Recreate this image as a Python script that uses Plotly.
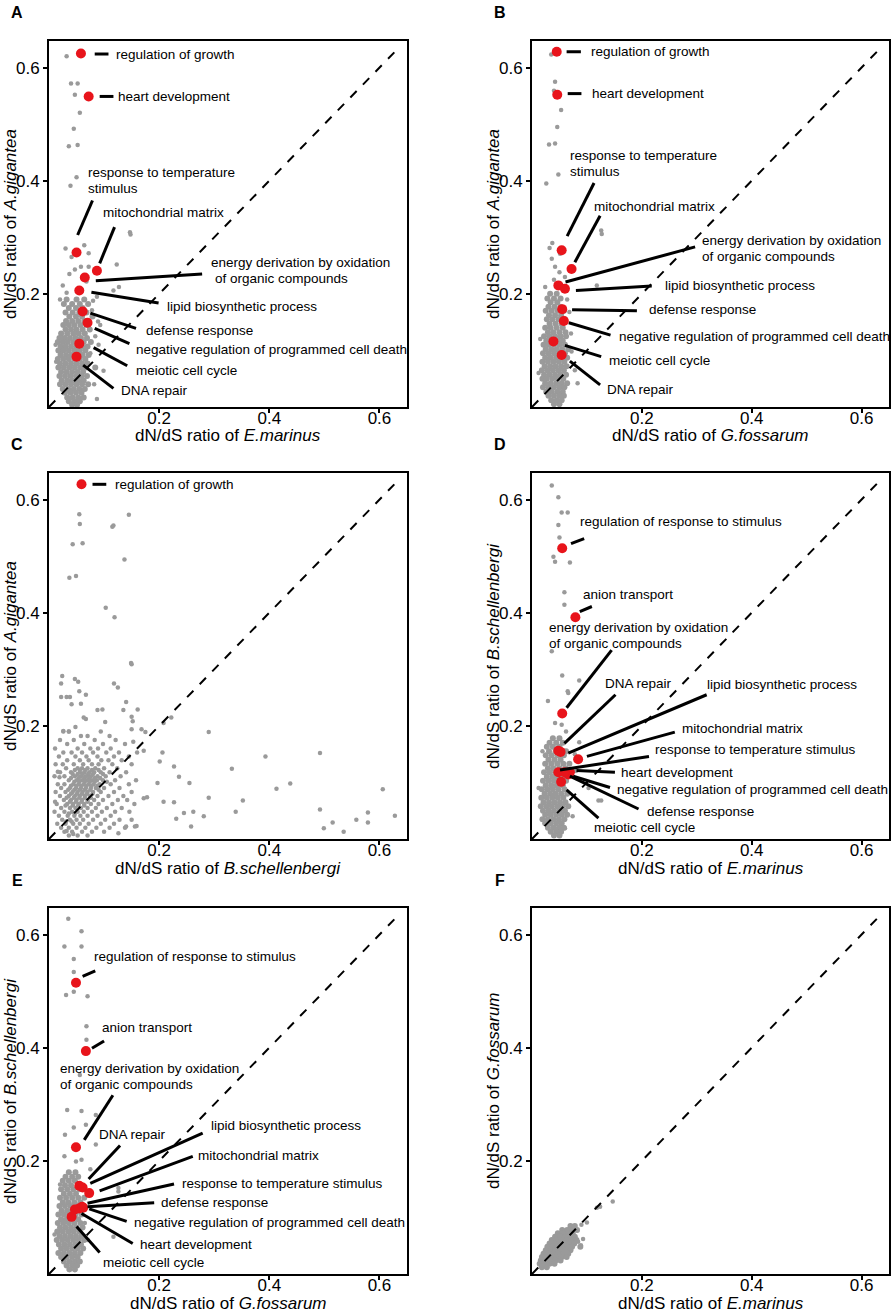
"""dN/dS scatter comparison panels (A-F) rebuilt with Plotly."""

import plotly.graph_objects as go

FONT = "Arial, Liberation Sans, sans-serif"
GRAY = "#9a9a9a"
RED = "#e8141b"

# ---------------------------------------------------------------- data
# A: A.gigantea (y) vs E.marinus (x)
A_OUTLIERS = [
    (0.032, 0.620), (0.040, 0.572), (0.052, 0.572), (0.047, 0.552), (0.056, 0.520),
    (0.045, 0.492), (0.036, 0.461), (0.052, 0.463), (0.050, 0.406), (0.039, 0.391),
    (0.147, 0.309), (0.148, 0.305), (0.030, 0.280), (0.064, 0.286), (0.072, 0.272),
    (0.041, 0.265), (0.072, 0.248), (0.058, 0.248), (0.123, 0.252), (0.037, 0.235),
    (0.047, 0.243), (0.117, 0.206), (0.127, 0.212), (0.087, 0.195), (0.089, 0.151),
    (0.093, 0.145), (0.099, 0.064), (0.087, 0.014), (0.075, 0.095), (0.078, 0.171),
    (0.032, 0.202), (0.025, 0.215), (0.068, 0.222), (0.080, 0.188), (0.020, 0.190),
    (0.084, 0.125), (0.082, 0.040), (0.090, 0.110), (0.013, 0.080), (0.012, 0.110),
]
A_CORE_Y = [0.190, 0.182, 0.175, 0.167, 0.160, 0.152, 0.145, 0.137, 0.130, 0.122,
            0.115, 0.107, 0.100, 0.092, 0.085, 0.077, 0.070, 0.062, 0.055, 0.047,
            0.040, 0.032, 0.025, 0.017, 0.010, 0.004]
A_CORE_X = [
    [0.032, 0.050, 0.064], [0.027, 0.042, 0.056, 0.071], [0.036, 0.049, 0.061],
    [0.030, 0.043, 0.055, 0.068], [0.037, 0.049, 0.060, 0.079], [0.031, 0.042, 0.053, 0.064],
    [0.026, 0.036, 0.046, 0.057, 0.068], [0.030, 0.040, 0.050, 0.061, 0.074],
    [0.022, 0.033, 0.044, 0.054, 0.065], [0.019, 0.028, 0.038, 0.048, 0.058, 0.069],
    [0.016, 0.025, 0.034, 0.044, 0.053, 0.063, 0.076], [0.021, 0.030, 0.040, 0.050, 0.060, 0.070],
    [0.017, 0.026, 0.036, 0.046, 0.056, 0.066], [0.021, 0.031, 0.041, 0.051, 0.061, 0.072],
    [0.016, 0.026, 0.036, 0.046, 0.056, 0.066], [0.020, 0.030, 0.040, 0.050, 0.060, 0.070],
    [0.017, 0.027, 0.037, 0.047, 0.057, 0.067, 0.084], [0.022, 0.032, 0.042, 0.052, 0.062],
    [0.019, 0.029, 0.039, 0.049, 0.059, 0.069], [0.023, 0.033, 0.043, 0.053, 0.063],
    [0.020, 0.030, 0.040, 0.050, 0.060, 0.071], [0.025, 0.035, 0.045, 0.055, 0.065],
    [0.029, 0.039, 0.049, 0.059], [0.033, 0.043, 0.053, 0.063], [0.036, 0.046, 0.056],
    [0.042, 0.051],
]
A_TERM_X = [0.058, 0.072, 0.050, 0.087, 0.065, 0.055, 0.061, 0.070, 0.055, 0.050]
A_TERM_Y = [0.625, 0.549, 0.273, 0.241, 0.229, 0.206, 0.169, 0.149, 0.112, 0.089]

# B: A.gigantea (y) vs G.fossarum (x)
B_OUTLIERS = [
    (0.035, 0.623), (0.042, 0.575), (0.040, 0.559), (0.053, 0.525), (0.046, 0.495),
    (0.031, 0.464), (0.042, 0.466), (0.048, 0.411), (0.026, 0.395), (0.126, 0.312),
    (0.127, 0.306), (0.037, 0.290), (0.032, 0.281), (0.051, 0.271), (0.042, 0.248),
    (0.060, 0.230), (0.024, 0.212), (0.118, 0.215), (0.083, 0.042), (0.078, 0.065),
    (0.071, 0.130), (0.050, 0.238), (0.036, 0.262), (0.064, 0.190), (0.015, 0.120),
    (0.012, 0.060), (0.072, 0.098), (0.068, 0.168), (0.040, 0.225),
]
B_CORE_Y = [0.200, 0.192, 0.185, 0.177, 0.170, 0.162, 0.155, 0.147, 0.140, 0.132,
            0.125, 0.117, 0.110, 0.102, 0.095, 0.087, 0.080, 0.072, 0.065, 0.057,
            0.050, 0.042, 0.035, 0.027, 0.020, 0.012, 0.005]
B_CORE_X = [
    [0.033, 0.045], [0.028, 0.040, 0.052], [0.034, 0.046], [0.030, 0.041, 0.052],
    [0.025, 0.036, 0.047, 0.058], [0.031, 0.042, 0.053], [0.027, 0.037, 0.048, 0.060],
    [0.032, 0.043, 0.054], [0.024, 0.034, 0.045, 0.056], [0.029, 0.039, 0.050, 0.061],
    [0.022, 0.032, 0.042, 0.052, 0.062], [0.026, 0.036, 0.046, 0.056],
    [0.021, 0.030, 0.040, 0.050, 0.060], [0.025, 0.035, 0.045, 0.055, 0.066],
    [0.020, 0.030, 0.040, 0.050, 0.060], [0.024, 0.034, 0.044, 0.054, 0.064],
    [0.019, 0.029, 0.039, 0.049, 0.059], [0.023, 0.033, 0.043, 0.053, 0.063],
    [0.018, 0.028, 0.038, 0.048, 0.058], [0.022, 0.032, 0.042, 0.052, 0.062],
    [0.019, 0.027, 0.037, 0.047, 0.057], [0.024, 0.034, 0.044, 0.054, 0.064],
    [0.020, 0.030, 0.040, 0.050, 0.059], [0.026, 0.036, 0.046, 0.056],
    [0.030, 0.040, 0.050, 0.058], [0.035, 0.045, 0.054], [0.040, 0.050],
]
B_TERM_X = [0.045, 0.046, 0.054, 0.072, 0.048, 0.060, 0.055, 0.058, 0.039, 0.054]
B_TERM_Y = [0.628, 0.552, 0.277, 0.244, 0.215, 0.209, 0.173, 0.152, 0.116, 0.092]

# C: A.gigantea (y) vs B.schellenbergi (x)
C_OUTLIERS = [
    (0.055, 0.574), (0.056, 0.557), (0.043, 0.521), (0.061, 0.523), (0.037, 0.462),
    (0.049, 0.465), (0.115, 0.552), (0.117, 0.554), (0.145, 0.573), (0.137, 0.494),
    (0.103, 0.409), (0.119, 0.392), (0.149, 0.311), (0.150, 0.309), (0.024, 0.288),
    (0.022, 0.275), (0.022, 0.251), (0.032, 0.251), (0.038, 0.251), (0.047, 0.283),
    (0.053, 0.278), (0.055, 0.261), (0.067, 0.255), (0.041, 0.238), (0.058, 0.239),
    (0.118, 0.275), (0.125, 0.268), (0.140, 0.242), (0.135, 0.228), (0.088, 0.228),
    (0.097, 0.229), (0.102, 0.207), (0.161, 0.229), (0.150, 0.216), (0.152, 0.208),
    (0.063, 0.215), (0.067, 0.212), (0.048, 0.198), (0.026, 0.191), (0.036, 0.190),
    (0.150, 0.194), (0.168, 0.194), (0.175, 0.189), (0.208, 0.205), (0.222, 0.215),
    (0.290, 0.189), (0.206, 0.153), (0.201, 0.137), (0.172, 0.156), (0.153, 0.172),
    (0.227, 0.128), (0.236, 0.110), (0.255, 0.099), (0.332, 0.124), (0.393, 0.146),
    (0.492, 0.152), (0.413, 0.089), (0.438, 0.098), (0.606, 0.088), (0.197, 0.099),
    (0.290, 0.073), (0.352, 0.068), (0.208, 0.066), (0.227, 0.065), (0.245, 0.046),
    (0.262, 0.048), (0.281, 0.040), (0.339, 0.048), (0.492, 0.052), (0.579, 0.047),
    (0.628, 0.041), (0.558, 0.034), (0.515, 0.029), (0.499, 0.019), (0.535, 0.013),
    (0.579, 0.029), (0.258, 0.022), (0.231, 0.036), (0.178, 0.074), (0.172, 0.072),
    (0.156, 0.022), (0.159, 0.023), (0.140, 0.022), (0.126, 0.010), (0.011, 0.066),
    (0.016, 0.119), (0.019, 0.109), (0.032, 0.014), (0.044, 0.009),
]
C_CORE_Y = [0.190, 0.182, 0.175, 0.168, 0.160, 0.153, 0.146, 0.139, 0.132, 0.125,
            0.122, 0.118, 0.115, 0.111, 0.108, 0.104, 0.101, 0.097, 0.094, 0.090,
            0.087, 0.083, 0.080, 0.076, 0.073, 0.069, 0.066, 0.062, 0.059, 0.055,
            0.048, 0.045, 0.041, 0.034, 0.031, 0.027, 0.020, 0.013, 0.006]
C_CORE_X = [
    [0.026, 0.036, 0.094], [0.058, 0.070, 0.110], [0.020, 0.045, 0.083, 0.121],
    [0.033, 0.064, 0.098, 0.138], [0.011, 0.052, 0.075, 0.089, 0.112],
    [0.026, 0.041, 0.060, 0.080, 0.104, 0.127, 0.160],
    [0.018, 0.048, 0.068, 0.088, 0.118, 0.145],
    [0.033, 0.056, 0.072, 0.095, 0.108, 0.132],
    [0.012, 0.025, 0.045, 0.062, 0.078, 0.090, 0.115, 0.150],
    [0.031, 0.052, 0.060, 0.070, 0.084, 0.100, 0.124],
    [0.047, 0.056, 0.066, 0.078, 0.090],
    [0.020, 0.040, 0.056, 0.064, 0.073, 0.082, 0.094, 0.110, 0.140],
    [0.043, 0.052, 0.061, 0.071, 0.080, 0.098],
    [0.010, 0.028, 0.047, 0.058, 0.067, 0.076, 0.088, 0.103, 0.130],
    [0.040, 0.054, 0.064, 0.073, 0.083, 0.093],
    [0.036, 0.050, 0.060, 0.069, 0.078, 0.087, 0.098, 0.120, 0.158],
    [0.046, 0.055, 0.065, 0.074, 0.083, 0.105],
    [0.016, 0.028, 0.044, 0.054, 0.063, 0.072, 0.081, 0.092, 0.112, 0.145],
    [0.040, 0.050, 0.059, 0.068, 0.077, 0.088],
    [0.022, 0.038, 0.049, 0.058, 0.067, 0.076, 0.085, 0.100, 0.128],
    [0.035, 0.046, 0.056, 0.065, 0.075, 0.090],
    [0.012, 0.030, 0.043, 0.052, 0.061, 0.070, 0.080, 0.094, 0.118, 0.150],
    [0.040, 0.051, 0.060, 0.069, 0.079],
    [0.020, 0.036, 0.047, 0.056, 0.065, 0.074, 0.088, 0.108, 0.135],
    [0.032, 0.045, 0.055, 0.065, 0.076],
    [0.027, 0.040, 0.050, 0.060, 0.070, 0.082, 0.098, 0.125, 0.142],
    [0.038, 0.049, 0.059, 0.070],
    [0.014, 0.033, 0.044, 0.054, 0.064, 0.076, 0.090, 0.115, 0.155],
    [0.030, 0.043, 0.053, 0.064],
    [0.022, 0.038, 0.048, 0.058, 0.070, 0.085, 0.105, 0.132],
    [0.010, 0.028, 0.042, 0.052, 0.063, 0.078, 0.096, 0.120, 0.146],
    [0.036, 0.047],
    [0.018, 0.034, 0.046, 0.057, 0.070, 0.088, 0.112],
    [0.024, 0.038, 0.050, 0.062, 0.080, 0.102, 0.128, 0.150],
    [0.031, 0.041],
    [0.015, 0.030, 0.044, 0.056, 0.072, 0.094, 0.118],
    [0.022, 0.036, 0.050, 0.066, 0.086, 0.110, 0.138],
    [0.028, 0.042, 0.060, 0.078, 0.100], [0.036, 0.052, 0.070],
]
C_TERM_X = [0.059]
C_TERM_Y = [0.627]

# D: B.schellenbergi (y) vs E.marinus (x)
D_OUTLIERS = [
    (0.036, 0.625), (0.048, 0.604), (0.054, 0.577), (0.065, 0.577), (0.048, 0.555),
    (0.050, 0.533), (0.039, 0.499), (0.042, 0.490), (0.069, 0.489), (0.059, 0.436),
    (0.059, 0.414), (0.036, 0.332), (0.055, 0.289), (0.086, 0.280), (0.065, 0.261),
    (0.029, 0.244), (0.042, 0.205), (0.054, 0.202), (0.086, 0.171), (0.019, 0.155),
    (0.121, 0.068), (0.126, 0.068), (0.103, 0.090), (0.060, 0.019), (0.066, 0.258),
    (0.062, 0.190), (0.078, 0.150), (0.074, 0.040), (0.012, 0.090), (0.080, 0.120),
]
D_CORE_Y = [0.178, 0.170, 0.163, 0.155, 0.148, 0.140, 0.133, 0.125, 0.118, 0.110,
            0.103, 0.095, 0.088, 0.080, 0.073, 0.065, 0.058, 0.050, 0.043, 0.035,
            0.028, 0.020, 0.013, 0.006]
D_CORE_X = [
    [0.038, 0.050], [0.032, 0.044, 0.056], [0.027, 0.038, 0.050], [0.031, 0.043, 0.062],
    [0.025, 0.036, 0.047, 0.058], [0.030, 0.041, 0.052], [0.024, 0.035, 0.046, 0.057, 0.068],
    [0.029, 0.039, 0.050, 0.061], [0.022, 0.032, 0.042, 0.053], [0.027, 0.037, 0.047, 0.058],
    [0.020, 0.030, 0.040, 0.051, 0.062], [0.025, 0.035, 0.045, 0.056],
    [0.018, 0.028, 0.038, 0.048, 0.059], [0.023, 0.033, 0.043, 0.053, 0.064],
    [0.017, 0.027, 0.037, 0.047, 0.057], [0.021, 0.031, 0.041, 0.051, 0.061],
    [0.016, 0.026, 0.036, 0.046, 0.056, 0.066], [0.020, 0.030, 0.040, 0.050, 0.060],
    [0.024, 0.034, 0.044, 0.054, 0.064], [0.019, 0.029, 0.039, 0.049, 0.059],
    [0.024, 0.034, 0.044, 0.054], [0.029, 0.039, 0.049, 0.058], [0.034, 0.044, 0.053],
    [0.040, 0.050],
]
D_TERM_X = [0.055, 0.079, 0.055, 0.048, 0.052, 0.084, 0.048, 0.069, 0.066, 0.059, 0.053]
D_TERM_Y = [0.514, 0.392, 0.222, 0.156, 0.154, 0.141, 0.118, 0.118, 0.114, 0.118, 0.101]

# E: B.schellenbergi (y) vs G.fossarum (x)
E_OUTLIERS = [
    (0.035, 0.628), (0.059, 0.606), (0.028, 0.579), (0.059, 0.579), (0.045, 0.557),
    (0.045, 0.534), (0.031, 0.493), (0.045, 0.499), (0.070, 0.491), (0.068, 0.438),
    (0.068, 0.414), (0.056, 0.352), (0.033, 0.290), (0.059, 0.288), (0.085, 0.281),
    (0.045, 0.259), (0.067, 0.264), (0.029, 0.246), (0.085, 0.229), (0.028, 0.208),
    (0.049, 0.199), (0.059, 0.202), (0.126, 0.152), (0.126, 0.146), (0.117, 0.066),
    (0.020, 0.158), (0.075, 0.185), (0.070, 0.060), (0.010, 0.070), (0.065, 0.090),
]
E_CORE_Y = [0.180, 0.172, 0.165, 0.157, 0.150, 0.142, 0.135, 0.127, 0.120, 0.112,
            0.105, 0.097, 0.090, 0.082, 0.075, 0.067, 0.060, 0.052, 0.045, 0.037,
            0.030, 0.022, 0.015, 0.008]
E_CORE_X = [
    [0.036, 0.048], [0.030, 0.042, 0.053], [0.025, 0.036, 0.047], [0.029, 0.040, 0.058],
    [0.022, 0.033, 0.044, 0.055], [0.027, 0.038, 0.049], [0.020, 0.031, 0.042, 0.053, 0.064],
    [0.025, 0.035, 0.046, 0.057], [0.019, 0.029, 0.039, 0.050], [0.023, 0.033, 0.043, 0.054],
    [0.017, 0.027, 0.037, 0.048, 0.059], [0.022, 0.032, 0.042, 0.053],
    [0.016, 0.026, 0.036, 0.046, 0.057], [0.020, 0.030, 0.040, 0.050, 0.061],
    [0.015, 0.025, 0.035, 0.045, 0.055], [0.019, 0.029, 0.039, 0.049, 0.059],
    [0.014, 0.024, 0.034, 0.044, 0.054, 0.064], [0.018, 0.028, 0.038, 0.048, 0.058],
    [0.022, 0.032, 0.042, 0.052, 0.062], [0.017, 0.027, 0.037, 0.047, 0.057],
    [0.022, 0.032, 0.042, 0.052], [0.027, 0.037, 0.047, 0.056], [0.032, 0.042, 0.051],
    [0.037, 0.047],
]
E_TERM_X = [0.049, 0.067, 0.049, 0.055, 0.061, 0.073, 0.060, 0.055, 0.062, 0.047, 0.041]
E_TERM_Y = [0.515, 0.394, 0.224, 0.156, 0.153, 0.143, 0.119, 0.116, 0.117, 0.114, 0.101]

# F: G.fossarum (y) vs E.marinus (x)
F_OUTLIERS = [
    (0.147, 0.128), (0.124, 0.119), (0.118, 0.117), (0.100, 0.091), (0.090, 0.087),
    (0.069, 0.081), (0.089, 0.051), (0.084, 0.057), (0.018, 0.022), (0.093, 0.062),
]
F_CORE_Y = [0.085, 0.078, 0.072, 0.066, 0.060, 0.054, 0.048, 0.042, 0.036, 0.030,
            0.024, 0.018, 0.012]
F_CORE_X = [
    [0.070, 0.078], [0.055, 0.064, 0.073, 0.082], [0.047, 0.056, 0.065, 0.074],
    [0.042, 0.051, 0.060, 0.069, 0.078], [0.036, 0.045, 0.054, 0.063, 0.072, 0.081],
    [0.032, 0.041, 0.050, 0.059, 0.068, 0.077],
    [0.028, 0.037, 0.046, 0.055, 0.064, 0.073, 0.088],
    [0.025, 0.034, 0.043, 0.052, 0.061, 0.070], [0.021, 0.030, 0.039, 0.048, 0.057, 0.066],
    [0.018, 0.027, 0.036, 0.045, 0.054, 0.063], [0.016, 0.025, 0.034, 0.043, 0.052],
    [0.014, 0.023, 0.032, 0.041], [0.018, 0.027],
]
F_TERM_X = []
F_TERM_Y = []

TICKS = [0.2, 0.4, 0.6]
TICK_TEXT = ["0.2", "0.4", "0.6"]

# ------------------------------------------------- label placement
# (text, leader line x0, y0, x1, y1 or None, text x, text y)
LABELS = {
    "A": [
        ("regulation of growth", (0.083, 0.624, 0.108, 0.624), 0.118, 0.624),
        ("heart development", (0.092, 0.549, 0.117, 0.549), 0.121, 0.549),
        ("response to temperature", (0.052, 0.304, 0.079, 0.365), 0.068, 0.415),
        ("stimulus", None, 0.068, 0.387),
        ("mitochondrial matrix", (0.092, 0.254, 0.119, 0.318), 0.094, 0.343),
        ("energy derivation by oxidation", (0.085, 0.223, 0.278, 0.235), 0.291, 0.256),
        ("of organic compounds", None, 0.297, 0.228),
        ("lipid biosynthetic process", (0.077, 0.203, 0.199, 0.184), 0.211, 0.178),
        ("defense response", (0.075, 0.166, 0.158, 0.139), 0.173, 0.136),
        ("negative regulation of programmed cell death", (0.083, 0.139, 0.146, 0.112), 0.155, 0.102),
        ("meiotic cell cycle", (0.081, 0.105, 0.142, 0.073), 0.154, 0.065),
        ("DNA repair", (0.062, 0.074, 0.117, 0.033), 0.127, 0.030),
    ],
    "B": [
        ("regulation of growth", (0.063, 0.628, 0.089, 0.628), 0.103, 0.628),
        ("heart development", (0.065, 0.554, 0.090, 0.554), 0.105, 0.554),
        ("response to temperature", (0.064, 0.302, 0.113, 0.396), 0.065, 0.445),
        ("stimulus", None, 0.065, 0.416),
        ("mitochondrial matrix", (0.078, 0.256, 0.124, 0.338), 0.109, 0.354),
        ("energy derivation by oxidation", (0.061, 0.221, 0.297, 0.283), 0.306, 0.295),
        ("of organic compounds", None, 0.306, 0.266),
        ("lipid biosynthetic process", (0.080, 0.206, 0.218, 0.214), 0.239, 0.215),
        ("defense response", (0.073, 0.172, 0.191, 0.170), 0.209, 0.173),
        ("negative regulation of programmed cell death", (0.067, 0.149, 0.143, 0.127), 0.154, 0.124),
        ("meiotic cell cycle", (0.060, 0.109, 0.126, 0.089), 0.136, 0.082),
        ("DNA repair", (0.069, 0.081, 0.124, 0.039), 0.133, 0.031),
    ],
    "C": [
        ("regulation of growth", (0.079, 0.627, 0.104, 0.627), 0.116, 0.627),
    ],
    "D": [
        ("regulation of response to stimulus", (0.071, 0.522, 0.095, 0.531), 0.083, 0.562),
        ("anion transport", (0.087, 0.402, 0.109, 0.411), 0.090, 0.433),
        ("energy derivation by oxidation", (0.063, 0.232, 0.145, 0.334), 0.027, 0.374),
        ("of organic compounds", None, 0.027, 0.346),
        ("DNA repair", (0.059, 0.169, 0.152, 0.255), 0.130, 0.275),
        ("lipid biosynthetic process", (0.066, 0.152, 0.318, 0.255), 0.315, 0.274),
        ("mitochondrial matrix", (0.100, 0.146, 0.260, 0.189), 0.270, 0.196),
        ("response to temperature stimulus", (0.051, 0.122, 0.213, 0.146), 0.220, 0.158),
        ("heart development", (0.081, 0.121, 0.151, 0.118), 0.159, 0.118),
        ("negative regulation of programmed cell death", (0.075, 0.111, 0.142, 0.091), 0.152, 0.087),
        ("defense response", (0.069, 0.111, 0.194, 0.053), 0.206, 0.048),
        ("meiotic cell cycle", (0.063, 0.087, 0.121, 0.037), 0.110, 0.021),
    ],
    "E": [
        ("regulation of response to stimulus", (0.061, 0.526, 0.084, 0.536), 0.078, 0.561),
        ("anion transport", (0.078, 0.399, 0.100, 0.412), 0.092, 0.436),
        ("energy derivation by oxidation", (0.064, 0.237, 0.116, 0.316), 0.016, 0.363),
        ("of organic compounds", None, 0.016, 0.335),
        ("DNA repair", (0.072, 0.168, 0.129, 0.227), 0.088, 0.247),
        ("lipid biosynthetic process", (0.075, 0.160, 0.279, 0.249), 0.290, 0.263),
        ("mitochondrial matrix", (0.092, 0.147, 0.261, 0.208), 0.267, 0.209),
        ("response to temperature stimulus", (0.070, 0.125, 0.227, 0.159), 0.238, 0.160),
        ("defense response", (0.070, 0.119, 0.191, 0.126), 0.200, 0.126),
        ("negative regulation of programmed cell death", (0.073, 0.115, 0.141, 0.093), 0.151, 0.091),
        ("heart development", (0.059, 0.107, 0.152, 0.054), 0.162, 0.053),
        ("meiotic cell cycle", (0.050, 0.084, 0.092, 0.038), 0.094, 0.020),
    ],
    "F": [],
}

# panel letter, x title species, y title species, outliers, core rows, terms, core dot size
PANELS = [
    ("A", "E.marinus", "A.gigantea", A_OUTLIERS, A_CORE_Y, A_CORE_X, A_TERM_X, A_TERM_Y, 6),
    ("B", "G.fossarum", "A.gigantea", B_OUTLIERS, B_CORE_Y, B_CORE_X, B_TERM_X, B_TERM_Y, 6),
    ("C", "B.schellenbergi", "A.gigantea", C_OUTLIERS, C_CORE_Y, C_CORE_X, C_TERM_X, C_TERM_Y, 4.5),
    ("D", "E.marinus", "B.schellenbergi", D_OUTLIERS, D_CORE_Y, D_CORE_X, D_TERM_X, D_TERM_Y, 6),
    ("E", "G.fossarum", "B.schellenbergi", E_OUTLIERS, E_CORE_Y, E_CORE_X, E_TERM_X, E_TERM_Y, 6),
    ("F", "E.marinus", "G.fossarum", F_OUTLIERS, F_CORE_Y, F_CORE_X, F_TERM_X, F_TERM_Y, 6),
]

# ------------------------------------------------- page geometry (px)
W, H = 892, 1312
COL_X = [(49, 407), (532, 889)]
ROW_Y = [(41, 407), (473, 839), (908, 1274)]
DIAG_END = 0.635


def px_x(px):
    return px / W


def px_y(py):
    return 1 - py / H


fig = go.Figure()
annotations = []
shapes = []

for idx, (letter, xsp, ysp, outliers, core_y, core_x, term_x, term_y, core_size) in enumerate(PANELS):
    row, col = divmod(idx, 2)
    n = "" if idx == 0 else str(idx + 1)
    xref, yref = "x" + n, "y" + n
    (x0, x1), (y0, y1) = COL_X[col], ROW_Y[row]

    axis_style = dict(
        showgrid=False, zeroline=False, showline=True, mirror=True,
        linecolor="black", linewidth=2, ticks="outside", ticklen=4,
        tickwidth=2, tickcolor="black", tickvals=TICKS, ticktext=TICK_TEXT,
        tickfont=dict(family=FONT, size=17, color="black"),
    )
    fig.layout["xaxis" + n] = dict(
        domain=[px_x(x0), px_x(x1)], range=[0, 0.65], anchor=yref,
        ticklabelstandoff=-9, **axis_style
    )
    fig.layout["yaxis" + n] = dict(
        domain=[px_y(y1), px_y(y0)], range=[0, 0.647], anchor=xref, **axis_style
    )

    core_px, core_py = [], []
    for yv, row_x in zip(core_y, core_x):
        core_px.extend(row_x)
        core_py.extend([yv] * len(row_x))
    fig.add_trace(go.Scatter(
        x=core_px, y=core_py, mode="markers", xaxis=xref, yaxis=yref,
        marker=dict(size=core_size, color=GRAY), hoverinfo="skip",
    ))
    fig.add_trace(go.Scatter(
        x=[p[0] for p in outliers], y=[p[1] for p in outliers], mode="markers",
        xaxis=xref, yaxis=yref, marker=dict(size=4.5, color=GRAY), hoverinfo="skip",
    ))
    fig.add_trace(go.Scatter(
        x=[0, DIAG_END], y=[0, DIAG_END], mode="lines", xaxis=xref, yaxis=yref,
        line=dict(color="black", width=2, dash="dash"), hoverinfo="skip",
    ))
    if term_x:
        fig.add_trace(go.Scatter(
            x=term_x, y=term_y, mode="markers", xaxis=xref, yaxis=yref,
            marker=dict(size=10, color=RED), hoverinfo="skip",
        ))

    for text, leader, tx, ty in LABELS[letter]:
        if leader is not None:
            shapes.append(dict(
                type="line", xref=xref, yref=yref,
                x0=leader[0], y0=leader[1], x1=leader[2], y1=leader[3],
                line=dict(color="black", width=3),
            ))
        annotations.append(dict(
            x=tx, y=ty, xref=xref, yref=yref, text=text, showarrow=False,
            xanchor="left", yanchor="middle",
            font=dict(family=FONT, size=13.5, color="black"),
        ))

    # panel letter
    annotations.append(dict(
        x=px_x(x0 - 32), y=px_y(y0 - 28), xref="paper", yref="paper",
        text="<b>%s</b>" % letter, showarrow=False, xanchor="center",
        yanchor="middle", font=dict(family=FONT, size=16, color="black"),
    ))
    # axis titles
    annotations.append(dict(
        x=px_x((x0 + x1) / 2), y=px_y(y1 + 29), xref="paper", yref="paper",
        text="dN/dS ratio of <i>%s</i>" % xsp, showarrow=False,
        xanchor="center", yanchor="middle",
        font=dict(family=FONT, size=17, color="black"),
    ))
    annotations.append(dict(
        x=px_x(x0 - 39), y=px_y((y0 + y1) / 2), xref="paper", yref="paper",
        text="dN/dS ratio of <i>%s</i>" % ysp, showarrow=False, textangle=-90,
        xanchor="center", yanchor="middle",
        font=dict(family=FONT, size=17, color="black"),
    ))

fig.update_layout(
    width=W, height=H, margin=dict(l=0, r=0, t=0, b=0),
    paper_bgcolor="white", plot_bgcolor="white", showlegend=False,
    annotations=annotations, shapes=shapes,
)

# the page body has a default 8px margin; drop it so the figure fills the window
fig.write_html(
    "out.html",
    config={"displayModeBar": False},
    post_script="document.body.style.margin='0';document.body.style.overflow='hidden';",
)
